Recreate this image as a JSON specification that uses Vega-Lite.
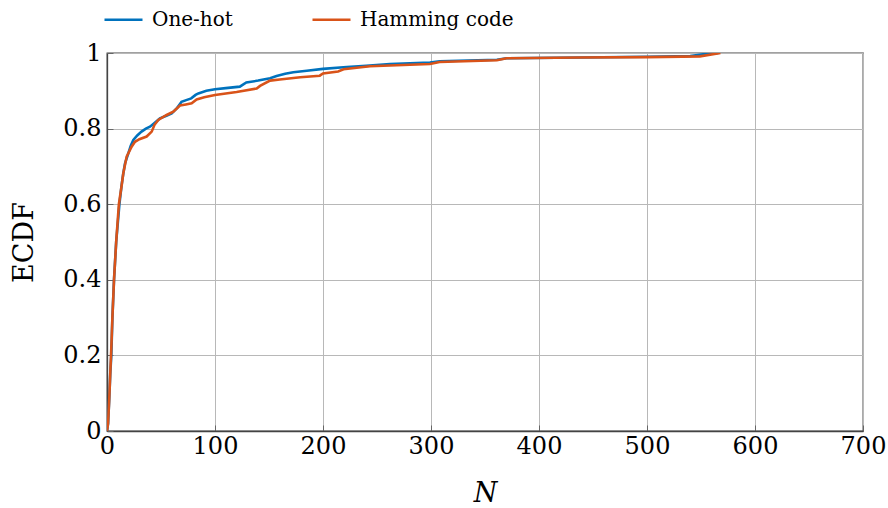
{
  "$schema": "https://vega.github.io/schema/vega-lite/v6.json",
  "width": 756,
  "height": 378,
  "autosize": {"type": "none"},
  "padding": {"left": 107, "top": 53, "right": 25, "bottom": 77},
  "background": "white",
  "config": {
    "view": {"stroke": "#444444", "strokeWidth": 1.3},
    "font": "DejaVu Serif",
    "axis": {
      "domainColor": "#444444",
      "domainWidth": 1.3,
      "gridColor": "#b8b8b8",
      "gridWidth": 1,
      "tickColor": "#666666",
      "tickSize": -6,
      "tickWidth": 1,
      "labelFont": "DejaVu Serif",
      "labelFontSize": 24,
      "labelColor": "#000000",
      "titleFont": "DejaVu Serif",
      "titleFontSize": 27,
      "titleFontWeight": "normal",
      "titleColor": "#000000"
    }
  },
  "data": {
    "values": [
      {"N": 0, "E": 0, "series": "One-hot"},
      {"N": 1, "E": 0.02, "series": "One-hot"},
      {"N": 2, "E": 0.08, "series": "One-hot"},
      {"N": 3, "E": 0.15, "series": "One-hot"},
      {"N": 4, "E": 0.2, "series": "One-hot"},
      {"N": 5, "E": 0.3, "series": "One-hot"},
      {"N": 6.5, "E": 0.4, "series": "One-hot"},
      {"N": 8.5, "E": 0.5, "series": "One-hot"},
      {"N": 11.5, "E": 0.6, "series": "One-hot"},
      {"N": 13.5, "E": 0.65, "series": "One-hot"},
      {"N": 15, "E": 0.68, "series": "One-hot"},
      {"N": 16.7, "E": 0.708, "series": "One-hot"},
      {"N": 19.8, "E": 0.735, "series": "One-hot"},
      {"N": 22, "E": 0.755, "series": "One-hot"},
      {"N": 24.4, "E": 0.77, "series": "One-hot"},
      {"N": 28, "E": 0.782, "series": "One-hot"},
      {"N": 32, "E": 0.792, "series": "One-hot"},
      {"N": 36, "E": 0.8, "series": "One-hot"},
      {"N": 39.8, "E": 0.805, "series": "One-hot"},
      {"N": 44, "E": 0.815, "series": "One-hot"},
      {"N": 49, "E": 0.827, "series": "One-hot"},
      {"N": 55, "E": 0.834, "series": "One-hot"},
      {"N": 59.9, "E": 0.84, "series": "One-hot"},
      {"N": 65, "E": 0.855, "series": "One-hot"},
      {"N": 69, "E": 0.871, "series": "One-hot"},
      {"N": 74, "E": 0.876, "series": "One-hot"},
      {"N": 78, "E": 0.88, "series": "One-hot"},
      {"N": 82, "E": 0.889, "series": "One-hot"},
      {"N": 84.6, "E": 0.893, "series": "One-hot"},
      {"N": 92, "E": 0.9, "series": "One-hot"},
      {"N": 100, "E": 0.904, "series": "One-hot"},
      {"N": 110, "E": 0.907, "series": "One-hot"},
      {"N": 123, "E": 0.911, "series": "One-hot"},
      {"N": 129, "E": 0.922, "series": "One-hot"},
      {"N": 140, "E": 0.927, "series": "One-hot"},
      {"N": 151, "E": 0.933, "series": "One-hot"},
      {"N": 157, "E": 0.939, "series": "One-hot"},
      {"N": 165, "E": 0.945, "series": "One-hot"},
      {"N": 172.5, "E": 0.949, "series": "One-hot"},
      {"N": 185, "E": 0.953, "series": "One-hot"},
      {"N": 200, "E": 0.958, "series": "One-hot"},
      {"N": 222, "E": 0.963, "series": "One-hot"},
      {"N": 240, "E": 0.966, "series": "One-hot"},
      {"N": 262, "E": 0.971, "series": "One-hot"},
      {"N": 299, "E": 0.975, "series": "One-hot"},
      {"N": 308, "E": 0.978, "series": "One-hot"},
      {"N": 361, "E": 0.982, "series": "One-hot"},
      {"N": 370, "E": 0.986, "series": "One-hot"},
      {"N": 438, "E": 0.988, "series": "One-hot"},
      {"N": 500, "E": 0.99, "series": "One-hot"},
      {"N": 540, "E": 0.992, "series": "One-hot"},
      {"N": 553, "E": 0.997, "series": "One-hot"},
      {"N": 566, "E": 1.0, "series": "One-hot"},
      {"N": 0, "E": 0, "series": "Hamming code"},
      {"N": 1, "E": 0.02, "series": "Hamming code"},
      {"N": 2, "E": 0.08, "series": "Hamming code"},
      {"N": 3, "E": 0.15, "series": "Hamming code"},
      {"N": 4, "E": 0.22, "series": "Hamming code"},
      {"N": 5, "E": 0.3, "series": "Hamming code"},
      {"N": 6.5, "E": 0.4, "series": "Hamming code"},
      {"N": 8.5, "E": 0.5, "series": "Hamming code"},
      {"N": 11, "E": 0.6, "series": "Hamming code"},
      {"N": 13.6, "E": 0.65, "series": "Hamming code"},
      {"N": 15.1, "E": 0.682, "series": "Hamming code"},
      {"N": 18.2, "E": 0.726, "series": "Hamming code"},
      {"N": 22.8, "E": 0.752, "series": "Hamming code"},
      {"N": 25.9, "E": 0.765, "series": "Hamming code"},
      {"N": 30, "E": 0.772, "series": "Hamming code"},
      {"N": 36.7, "E": 0.779, "series": "Hamming code"},
      {"N": 41.4, "E": 0.792, "series": "Hamming code"},
      {"N": 44, "E": 0.81, "series": "Hamming code"},
      {"N": 47.5, "E": 0.823, "series": "Hamming code"},
      {"N": 55.2, "E": 0.836, "series": "Hamming code"},
      {"N": 61.4, "E": 0.845, "series": "Hamming code"},
      {"N": 67.6, "E": 0.861, "series": "Hamming code"},
      {"N": 73, "E": 0.864, "series": "Hamming code"},
      {"N": 78.4, "E": 0.867, "series": "Hamming code"},
      {"N": 83, "E": 0.877, "series": "Hamming code"},
      {"N": 90, "E": 0.883, "series": "Hamming code"},
      {"N": 100, "E": 0.889, "series": "Hamming code"},
      {"N": 120, "E": 0.897, "series": "Hamming code"},
      {"N": 138.6, "E": 0.906, "series": "Hamming code"},
      {"N": 141.7, "E": 0.913, "series": "Hamming code"},
      {"N": 151, "E": 0.927, "series": "Hamming code"},
      {"N": 160, "E": 0.93, "series": "Hamming code"},
      {"N": 179, "E": 0.936, "series": "Hamming code"},
      {"N": 197, "E": 0.94, "series": "Hamming code"},
      {"N": 200, "E": 0.946, "series": "Hamming code"},
      {"N": 214, "E": 0.951, "series": "Hamming code"},
      {"N": 219, "E": 0.957, "series": "Hamming code"},
      {"N": 243.5, "E": 0.965, "series": "Hamming code"},
      {"N": 299, "E": 0.971, "series": "Hamming code"},
      {"N": 308, "E": 0.976, "series": "Hamming code"},
      {"N": 361, "E": 0.981, "series": "Hamming code"},
      {"N": 370, "E": 0.986, "series": "Hamming code"},
      {"N": 438, "E": 0.988, "series": "Hamming code"},
      {"N": 500, "E": 0.989, "series": "Hamming code"},
      {"N": 549, "E": 0.991, "series": "Hamming code"},
      {"N": 568, "E": 1.0, "series": "Hamming code"}
    ]
  },
  "encoding": {
    "x": {
      "field": "N", "type": "quantitative",
      "scale": {"domain": [0, 700], "nice": false},
      "axis": {"values": [0, 100, 200, 300, 400, 500, 600, 700], "title": "N", "titleFontStyle": "italic", "labelPadding": 9, "titleBaseline": "middle", "titleY": 62, "labelFlush": false}
    },
    "y": {
      "field": "E", "type": "quantitative",
      "scale": {"domain": [0, 1], "nice": false},
      "axis": {"values": [0, 0.2, 0.4, 0.6, 0.8, 1], "format": "~g", "title": "ECDF", "labelPadding": 12, "titleX": -83, "titleY": 189, "titleAngle": -90, "titleAlign": "center", "titleBaseline": "middle", "labelFlush": false}
    },
    "color": {
      "field": "series", "type": "nominal",
      "scale": {"domain": ["One-hot", "Hamming code"], "range": ["#0072BD", "#D95319"]},
      "legend": {
        "title": null, "orient": "none", "direction": "horizontal",
        "legendX": -4, "legendY": -54, "padding": 0,
        "symbolType": "stroke", "symbolSize": 1444, "symbolStrokeWidth": 2.6,
        "labelFont": "DejaVu Serif", "labelFontSize": 20, "labelColor": "#000000",
        "labelOffset": 8, "columnPadding": 74, "labelLimit": 400
      }
    }
  },
  "layer": [
    {"transform": [{"filter": "datum.series === 'One-hot'"}], "mark": {"type": "line", "strokeWidth": 2.6, "clip": true}},
    {"transform": [{"filter": "datum.series === 'Hamming code'"}], "mark": {"type": "line", "strokeWidth": 2.6, "clip": true}}
  ]
}
